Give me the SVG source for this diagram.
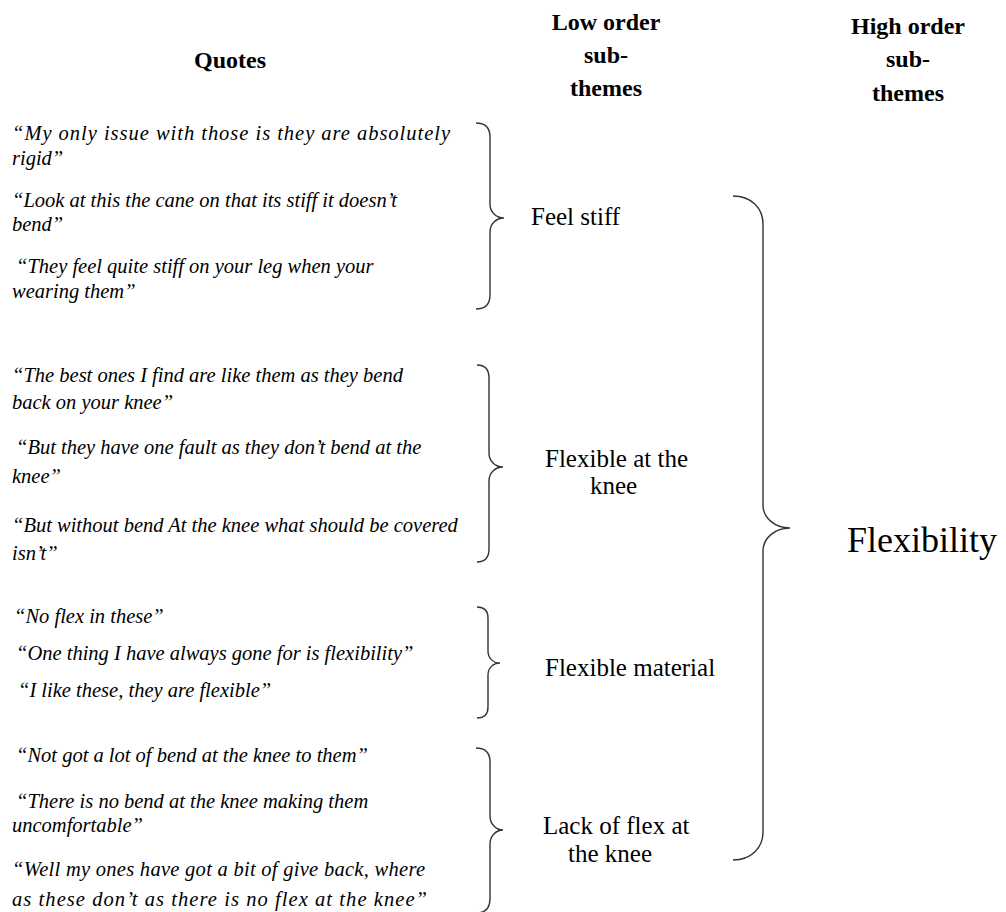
<svg xmlns="http://www.w3.org/2000/svg" width="1006" height="912" viewBox="0 0 1006 912">
  <style>
    text { font-family: 'Liberation Serif', 'Times New Roman', 'DejaVu Serif', serif; fill: #000; }
    .hdr { font-weight: bold; font-size: 24px; text-anchor: middle; }
    .quote { font-style: italic; font-size: 20.5px; }
    .theme { font-size: 25px; }
    .top { font-size: 36px; }
    .brace { fill: none; stroke: #333; stroke-width: 1.4; }
  </style>
  <rect width="1006" height="912" fill="#fff"/>

  <!-- column headings -->
  <g id="headings">
    <text class="hdr" x="230" y="68">Quotes</text>
    <text class="hdr" x="606" y="30">Low order</text>
    <text class="hdr" x="606" y="63">sub-</text>
    <text class="hdr" x="606" y="96">themes</text>
    <text class="hdr" x="908" y="34">High order</text>
    <text class="hdr" x="908" y="67">sub-</text>
    <text class="hdr" x="908" y="101">themes</text>
  </g>

  <!-- quote groups -->
  <g id="quotes-stiff">
    <text class="quote" x="12" y="140" textLength="438" lengthAdjust="spacing">“My only issue with those is they are absolutely</text>
    <text class="quote" x="12" y="165">rigid”</text>
    <text class="quote" x="12" y="207">“Look at this the cane on that its stiff it doesn’t</text>
    <text class="quote" x="12" y="231">bend”</text>
    <text class="quote" x="16" y="273">“They feel quite stiff on your leg when your</text>
    <text class="quote" x="12" y="298">wearing them”</text>
  </g>
  <g id="quotes-knee">
    <text class="quote" x="12" y="382">“The best ones I find are like them as they bend</text>
    <text class="quote" x="12" y="409">back on your knee”</text>
    <text class="quote" x="16" y="454">“But they have one fault as they don’t bend at the</text>
    <text class="quote" x="12" y="483">knee”</text>
    <text class="quote" x="12" y="532">“But without bend At the knee what should be covered</text>
    <text class="quote" x="12" y="560">isn’t”</text>
  </g>
  <g id="quotes-material">
    <text class="quote" x="14" y="623">“No flex in these”</text>
    <text class="quote" x="16" y="660">“One thing I have always gone for is flexibility”</text>
    <text class="quote" x="18" y="697">“I like these, they are flexible”</text>
  </g>
  <g id="quotes-lack">
    <text class="quote" x="16" y="762">“Not got a lot of bend at the knee to them”</text>
    <text class="quote" x="16" y="808">“There is no bend at the knee making them</text>
    <text class="quote" x="12" y="832">uncomfortable”</text>
    <text class="quote" x="12" y="876" textLength="413" lengthAdjust="spacing">“Well my ones have got a bit of give back, where</text>
    <text class="quote" x="12" y="906" textLength="415" lengthAdjust="spacing">as these don’t as there is no flex at the knee”</text>
  </g>

  <!-- low order sub-themes -->
  <g id="theme-feel-stiff">
    <text class="theme" x="531" y="225">Feel stiff</text>
  </g>
  <g id="theme-flexible-knee">
    <text class="theme" x="545" y="467">Flexible at the</text>
    <text class="theme" x="590" y="494">knee</text>
  </g>
  <g id="theme-flexible-material">
    <text class="theme" x="545" y="676">Flexible material</text>
  </g>
  <g id="theme-lack-flex">
    <text class="theme" x="543" y="834">Lack of flex at</text>
    <text class="theme" x="568" y="862">the knee</text>
  </g>

  <!-- high order sub-theme -->
  <g id="theme-flexibility">
    <text class="top" x="847" y="552">Flexibility</text>
  </g>

  <!-- grouping braces -->
  <g id="connectors">
    <path class="brace" d="M476 123 C485 123 490 128 490 137 L490 204 C490 212 496 218 504 218 C496 218 490 224 490 232 L490 295 C490 304 485 309 476 309"/>
    <path class="brace" d="M477 365 C485 365 489 370 489 378 L489 453 C489 461 495 467 503 467 C495 467 489 473 489 481 L489 549 C489 557 485 562 477 562"/>
    <path class="brace" d="M477 607 C484 607 488 611 488 618 L488 651 C488 658 493 663 500 663 C493 663 488 668 488 675 L488 707 C488 714 484 718 477 718"/>
    <path class="brace" d="M476 748 C485 748 490 753 490 762 L490 816 C490 824 496 830 503 830 C496 830 490 836 490 844 L490 899 C490 908 485 913 476 913"/>
    <path class="brace" d="M733 196 C751 196 763 208 763 224 L763 505 C763 518 775 528 790 528 C775 528 763 538 763 551 L763 832 C763 848 751 860 733 860"/>
  </g>
</svg>
